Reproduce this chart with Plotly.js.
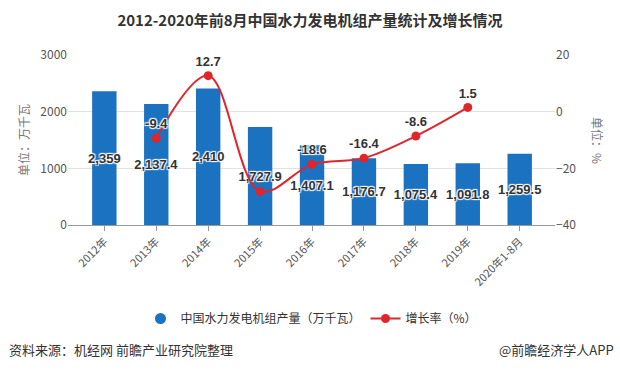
<!DOCTYPE html>
<html><head><meta charset="utf-8">
<script src="https://cdn.plot.ly/plotly-3.0.1.min.js"></script>
<style>body{margin:0;background:#fff}#c{width:620px;height:370px}</style>
</head><body><div id="c"></div>
<script>
const categories = ["2012年","2013年","2014年","2015年","2016年","2017年","2018年","2019年","2020年1-8月"];
const output = [2359, 2137.4, 2410, 1727.9, 1407.1, 1176.7, 1075.4, 1091.8, 1259.5];
const outputLabels = ["2,359","2,137.4","2,410","1,727.9","1,407.1","1,176.7","1,075.4","1,091.8","1,259.5"];
const growth = [null, -9.4, 12.7, -28.2, -18.6, -16.4, -8.6, 1.5, null];
const growthLabels = ["", "-9.4", "12.7", "", "-18.6", "-16.4", "-8.6", "1.5", ""];

const blue = "#1a72c1", red = "#e0262d";
const font = "'Noto Sans CJK SC', 'Liberation Sans', sans-serif";
const labelFont = "'Liberation Sans', Arial, sans-serif";
const halo = "1px 1px 1px #fff, -1px -1px 1px #fff, 1px -1px 1px #fff, -1px 1px 1px #fff";

const traces = [
  {type:"bar", x:categories, y:output, text:outputLabels, textposition:"inside", insidetextanchor:"middle",
   textangle:0, constraintext:"none",
   textfont:{family:labelFont, size:13, color:"#333", weight:"bold", shadow:halo},
   marker:{color:blue}, width:0.47, showlegend:false, cliponaxis:false,
   hoverinfo:"skip", name:"中国水力发电机组产量（万千瓦）"},
  {type:"scatter", x:[null], y:[null], mode:"markers", marker:{color:blue, size:11, symbol:"circle"},
   name:"中国水力发电机组产量（万千瓦）"},
  {type:"scatter", x:categories, y:growth, yaxis:"y2", mode:"lines+markers+text", text:growthLabels,
   textposition:"top center", cliponaxis:false,
   textfont:{family:labelFont, size:13, color:"#333", weight:"bold", shadow:halo},
   line:{color:red, width:2, shape:"spline", smoothing:1}, marker:{color:red, size:9},
   connectgaps:false, name:"增长率（%）"}
];

const layout = {
  width:620, height:370, margin:{l:68, r:65, t:55, b:145},
  paper_bgcolor:"#fff", plot_bgcolor:"#fff",
  font:{family:font, color:"#333"},
  title:{text:"<b>2012-2020年前8月中国水力发电机组产量统计及增长情况</b>", x:0.5, xanchor:"center", y:0.945, yanchor:"middle",
    font:{family:font, size:15, color:"#333"}},
  xaxis:{type:"category", range:[-0.7, 8.68], tickangle:-45, tickfont:{size:11, color:"#555"},
    showline:true, linecolor:"#999", ticks:"outside", ticklen:5, tickcolor:"#999", showgrid:false},
  yaxis:{range:[0,3000], dtick:1000, gridcolor:"#e2e2e2", tickfont:{size:12, color:"#555"}, zeroline:false,
    title:{text:"单位：万千瓦", font:{size:12, color:"#777"}, standoff:8}},
  yaxis2:{overlaying:"y", side:"right", range:[-40,20], dtick:20, showgrid:false, zeroline:false,
    tickfont:{size:12, color:"#555"}},
  legend:{orientation:"h", x:0.5, xanchor:"center", xref:"paper", y:-0.55, yanchor:"middle",
    font:{size:12, color:"#333"}},
  bargap:0.5,
  annotations:[
    {text:"单位：%", xref:"paper", yref:"paper", x:1.11, y:0.5, showarrow:false, textangle:90,
     font:{size:12, color:"#777"}},
    {text:"资料来源：机经网 前瞻产业研究院整理", xref:"paper", yref:"paper", x:-0.125, xanchor:"left",
     y:-0.735, yanchor:"middle", showarrow:false, font:{size:13, color:"#333"}},
    {text:"@前瞻经济学人APP", xref:"paper", yref:"paper", x:1.125, xanchor:"right",
     y:-0.735, yanchor:"middle", showarrow:false, font:{size:13, color:"#333"}}
  ]
};
Plotly.newPlot("c", traces, layout, {displayModeBar:false, staticPlot:true});
</script></body></html>
